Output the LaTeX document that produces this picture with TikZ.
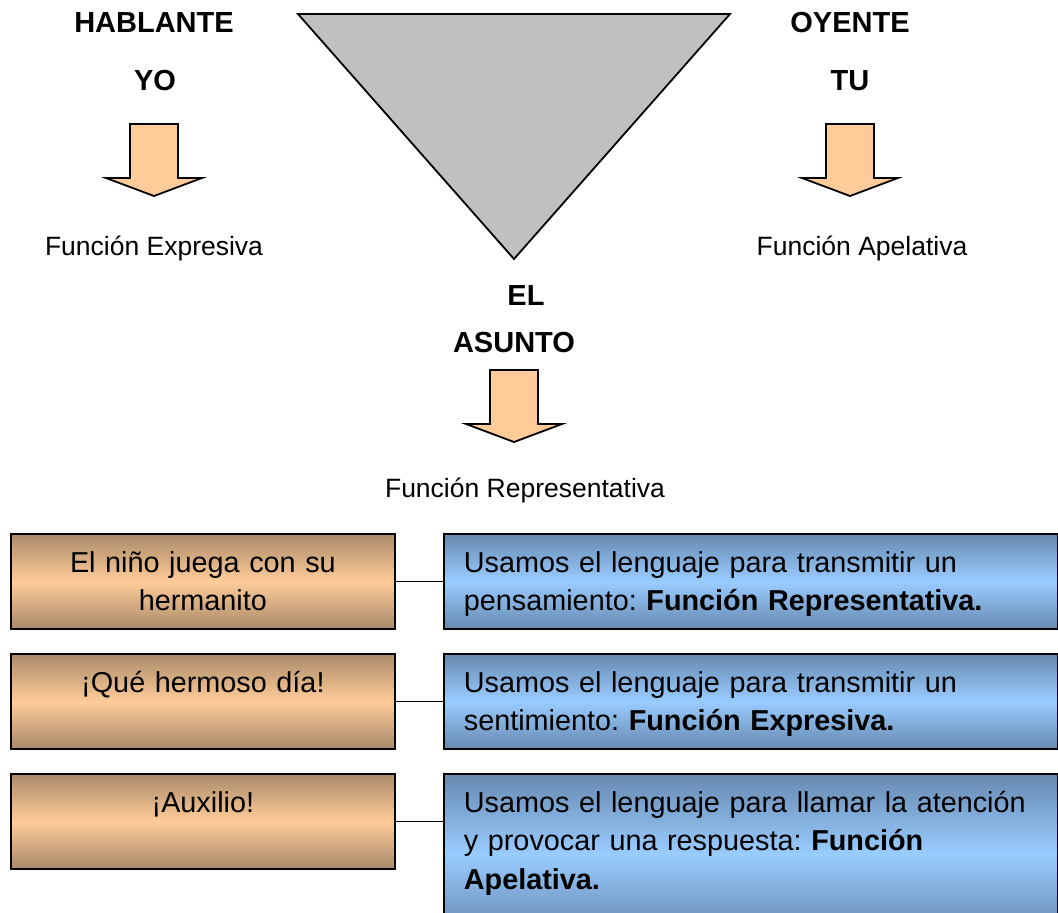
\documentclass[tikz,border=0pt]{standalone}
\usepackage{fontspec}
\setmainfont{Liberation Sans}
\frenchspacing
\definecolor{peach}{HTML}{FFCC99}
\definecolor{darkpeach}{HTML}{A98A69}
\definecolor{skyblue}{HTML}{99CCFF}
\definecolor{steelblue}{HTML}{6789B0}
\definecolor{silver}{HTML}{C0C0C0}
\tikzset{
x=1pt, y=-1pt, % one unit is one pixel, y grows downwards
head/.style={font=\fontsize{29}{34}\selectfont\bfseries, inner sep=0pt, anchor=base}, % bold titles
func/.style={font=\fontsize{26.5}{32}\selectfont, inner sep=0pt, anchor=base}, % names of the functions
phrase/.style={draw, top color=darkpeach, bottom color=darkpeach, middle color=peach, minimum width=384pt, minimum height=95pt, inner sep=0pt, anchor=north west}, % brown boxes
purpose/.style={draw, top color=steelblue, bottom color=steelblue, middle color=skyblue, minimum width=614pt, inner sep=0pt, anchor=north west}, % blue boxes
boxtext/.style={font=\fontsize{28.8}{38.5}\selectfont, inner sep=0pt, anchor=base}, % text inside the boxes
downarrow/.pic={
  \draw[fill=peach] (-24,0) -- (24,0) -- (24,54) -- (48,54) -- (0,72) -- (-48,54) -- (-24,54) -- cycle;
},
}

\begin{document}
\begin{tikzpicture}[line width=1.8pt, line join=miter]
        \useasboundingbox (0,0) rectangle (1058,913);

        % triangle
        \coordinate (tl) at (298,14);
        \coordinate (tr) at (730,14);
        \coordinate (tip) at (514,259);
        \draw[fill=silver] (tl) -- (tr) -- (tip) -- cycle;

        \node[head] (hablante) at (154,32) {HABLANTE};
        \node[head] (yo) at (155,90) {YO};
        \node[head] (oyente) at (850,32) {OYENTE};
        \node[head] (tu) at (850,90) {TU};
        \node[head] (el) at (526,305) {EL};
        \node[head] (asunto) at (514,352) {ASUNTO};

        \pic (arrowyo) at (154,124) {downarrow};
        \pic (arrowtu) at (850,124) {downarrow};
        \pic (arrowasunto) at (514,370) {downarrow};

        \node[func] (expresiva) at (154,255) {Función Expresiva};
        \node[func] (apelativa) at (862,255) {Función Apelativa};
        \node[func] (representativa) at (525,497) {Función Representativa};

        % examples and their purpose
        \node[phrase] (p1) at (10,533) {};
        \node[phrase] (p2) at (10,653) {};
        \node[phrase] (p3) at (10,773) {};
        \node[purpose, minimum height=95pt] (u1) at (443,533) {};
        \node[purpose, minimum height=95pt] (u2) at (443,653) {};
        \node[purpose, minimum height=160pt] (u3) at (443,773) {};

        \draw
        (p1.east) -- (p1.east -| u1.west)
        (p2.east) -- (p2.east -| u2.west)
        (p3.east) -- (p3.east -| u3.west);

        \node[boxtext, text width=384pt, align=center] (t1) at ([yshift=-39pt]p1.north) {El niño juega con su\\hermanito};
        \node[boxtext, text width=384pt, align=center] (t2) at ([yshift=-39pt]p2.north) {¡Qué hermoso día!};
        \node[boxtext, text width=384pt, align=center] (t3) at ([yshift=-39pt]p3.north) {¡Auxilio!};

        \node[boxtext, anchor=base west, text width=590pt, align=left] (s1) at ([xshift=20pt,yshift=-39pt]u1.north west) {Usamos el lenguaje para transmitir un\\pensamiento: \textbf{Función Representativa.}};
        \node[boxtext, anchor=base west, text width=590pt, align=left] (s2) at ([xshift=20pt,yshift=-39pt]u2.north west) {Usamos el lenguaje para transmitir un\\sentimiento: \textbf{Función Expresiva.}};
        \node[boxtext, anchor=base west, text width=590pt, align=left] (s3) at ([xshift=20pt,yshift=-39pt]u3.north west) {Usamos el lenguaje para llamar la atención\\y provocar una respuesta: \textbf{Función}\\\textbf{Apelativa.}};
\end{tikzpicture}
\end{document}
